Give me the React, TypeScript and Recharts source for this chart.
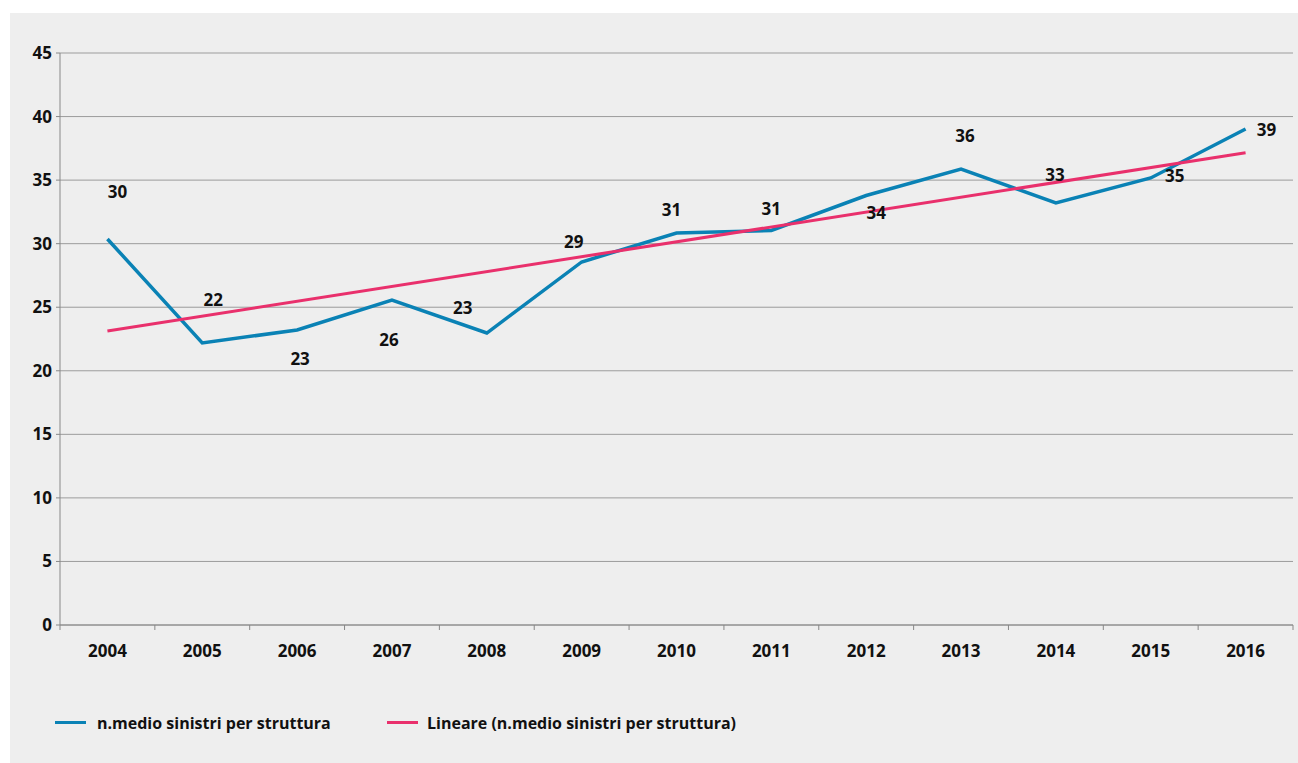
import React from 'react';
import { LineChart, Line, XAxis, YAxis, CartesianGrid, Legend } from 'recharts';

// Average number of claims per facility, 2004–2016, with its linear trend
const YEARS = ['2004', '2005', '2006', '2007', '2008', '2009', '2010', '2011', '2012', '2013', '2014', '2015', '2016'];
const SINISTRI = [30.37, 22.19, 23.21, 25.57, 22.97, 28.56, 30.84, 31.04, 33.79, 35.87, 33.2, 35.17, 39.02];
// Linear trend: only the two end points, joined by a straight segment
const TREND: (number | null)[] = [23.13, null, null, null, null, null, null, null, null, null, null, null, 37.16];
const Y_TICKS = [0, 5, 10, 15, 20, 25, 30, 35, 40, 45];
const SERIES_NAMES = ['n.medio sinistri per struttura', 'Lineare (n.medio sinistri per struttura)'];

const data = YEARS.map((year, i) => ({ year, sinistri: SINISTRI[i], trend: TREND[i] }));

const BLUE = '#0a82b5';
const PINK = '#e9306c';
const FONT = '"Open Sans", "Noto Sans", sans-serif';

const WIDTH = 1288;
const HEIGHT = 750;
const MARGIN = { top: 40, right: 5, left: 0, bottom: 68 };
const Y_AXIS_WIDTH = 50;
const STEP = (WIDTH - Y_AXIS_WIDTH - MARGIN.right) / YEARS.length;

// Label placement around each point (dx, dy of the label centre)
const LABEL_OFFSETS: [number, number][] = [
  [10, -47], [11, -43], [3, 29], [-3, 40], [-24, -26], [-8, -20], [-5, -23],
  [0, -22], [10, 17], [4, -34], [-1, -28], [24, -2], [21, 0],
];

const ValueLabel = (props: any) => {
  const { x, y, value, index } = props;
  if (value == null) return null;
  const [dx, dy] = LABEL_OFFSETS[index] || [0, -20];
  return (
    <text
      x={x + dx}
      y={y + dy}
      textAnchor="middle"
      dominantBaseline="central"
      fontFamily={FONT}
      fontWeight={700}
      fontSize={17}
      fill="#111"
    >
      {Math.round(value)}
    </text>
  );
};

// Category tick: label centred in the band, tick marks on band boundaries
const YearTick = (props: any) => {
  const { x, y, payload, index } = props;
  const left = x - STEP / 2;
  const right = x + STEP / 2;
  return (
    <g>
      <line x1={left} y1={y} x2={left} y2={y + 5} stroke="#888" strokeWidth={1} />
      {index === YEARS.length - 1 && (
        <line x1={right} y1={y} x2={right} y2={y + 5} stroke="#888" strokeWidth={1} />
      )}
      <text
        x={x}
        y={y + 20}
        dy="0.71em"
        textAnchor="middle"
        fontFamily={FONT}
        fontWeight={700}
        fontSize={17}
        fill="#111"
      >
        {payload.value}
      </text>
    </g>
  );
};

const LegendContent = () => {
  const items = [
    { name: SERIES_NAMES[0], color: BLUE, lineX: 45, textX: 87 },
    { name: SERIES_NAMES[1], color: PINK, lineX: 377, textX: 417 },
  ];
  return (
    <div style={{ position: 'relative', width: WIDTH, height: 40 }}>
      {items.map((it) => (
        <React.Fragment key={it.name}>
          <div
            style={{
              position: 'absolute',
              left: it.lineX,
              top: 13,
              width: 31,
              height: 3,
              background: it.color,
            }}
          />
          <div
            style={{
              position: 'absolute',
              left: it.textX,
              top: 3,
              height: 24,
              lineHeight: '24px',
              fontFamily: FONT,
              fontWeight: 700,
              fontSize: 16,
              color: '#111',
              whiteSpace: 'nowrap',
            }}
          >
            {it.name}
          </div>
        </React.Fragment>
      ))}
    </div>
  );
};

export default function App() {
  return (
    <div
      style={{
        position: 'absolute',
        left: 10,
        top: 13,
        width: WIDTH,
        height: HEIGHT,
        background: '#eeeeee',
      }}
    >
      <LineChart width={WIDTH} height={HEIGHT} data={data} margin={MARGIN}>
        <CartesianGrid horizontal vertical={false} stroke="#9c9c9c" strokeWidth={1} />
        <XAxis
          dataKey="year"
          height={30}
          stroke="#888"
          tickLine={false}
          tickSize={0}
          tickMargin={0}
          interval={0}
          padding={{ left: STEP / 2, right: STEP / 2 }}
          tick={<YearTick />}
        />
        <YAxis
          width={Y_AXIS_WIDTH}
          domain={[0, 45]}
          ticks={Y_TICKS}
          interval={0}
          stroke="#888"
          tickSize={4}
          tickMargin={4}
          tick={{ fontFamily: FONT, fontWeight: 700, fontSize: 17, fill: '#111' }}
        />
        <Legend
          verticalAlign="bottom"
          content={<LegendContent />}
          wrapperStyle={{ left: 0, top: 695, width: WIDTH, height: 40 }}
        />
        <Line
          type="linear"
          dataKey="sinistri"
          name={SERIES_NAMES[0]}
          stroke={BLUE}
          strokeWidth={3.5}
          dot={false}
          activeDot={false}
          isAnimationActive={false}
          label={<ValueLabel />}
        />
        <Line
          type="linear"
          dataKey="trend"
          name={SERIES_NAMES[1]}
          stroke={PINK}
          strokeWidth={3}
          dot={false}
          activeDot={false}
          connectNulls
          isAnimationActive={false}
        />
      </LineChart>
    </div>
  );
}
